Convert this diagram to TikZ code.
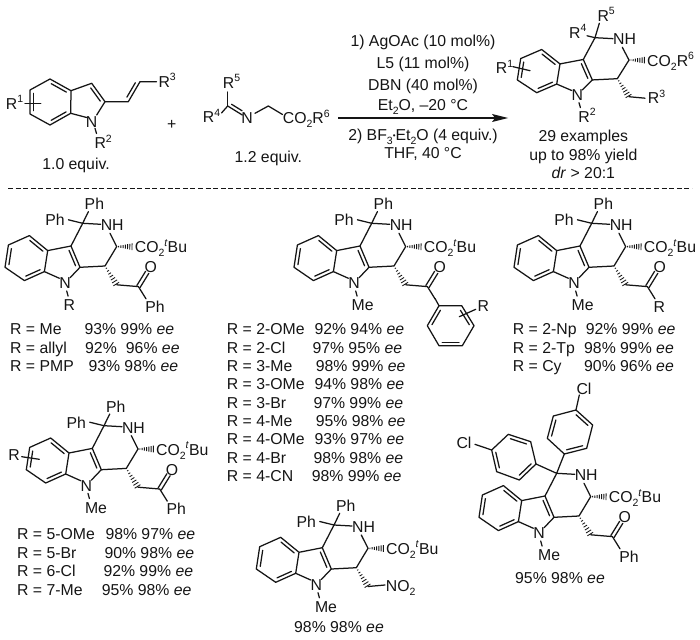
\documentclass[tikz,border=0pt]{standalone}
\usepackage{fontspec}
\setmainfont{Liberation Sans}
\usetikzlibrary{calc}
\definecolor{ink}{HTML}{151515}
\newcommand\sps[1]{\raisebox{.42em}{\fontsize{10.5}{10.5}\selectfont #1}}
\newcommand\sbs[1]{\raisebox{-.24em}{\fontsize{10.5}{10.5}\selectfont #1}}
\newcommand\eeit{\textit{ee}}
\newcommand\tbu{CO\sbs{2}\sps{\textit{t}}Bu}
\tikzset{
  bond/.style={draw=ink,line width=1.25pt,line cap=round,line join=round},
  lab/.style={inner sep=0pt,text=ink,font=\fontsize{15.8}{18}\selectfont},
  capw/.style={lab,anchor=base west,yshift=-5.6pt},
  capc/.style={lab,anchor=base,yshift=-5.6pt},
}
% inner line of a double bond
\newcommand\dbl[3]{\draw[bond] ($(#1)!.14!(#2)!#3pt!90:(#2)$) -- ($(#1)!.86!(#2)!#3pt!90:(#2)$);}
% hashed bond
\newcommand\hashb[2]{\foreach \t in {.12,.26,.40,.54,.68,.82,.96}{%
  \pgfmathsetmacro\w{\t*3.2+.3}%
  \draw[draw=ink,line width=.85pt] ($(#1)!\t!(#2)!\w pt!90:(#2)$) -- ($(#1)!\t!(#2)!-\w pt!90:(#2)$);}}
% tetrahydro-beta-carboline core: #1 ester text, #2 x of N substituent, #3 N substituent
\newcommand\core[3]{%
  \coordinate (C1) at (0,0); \coordinate (C3) at (34,23.3); \coordinate (C4) at (22.3,42.7);
  \coordinate (C4a) at (-2.7,44); \coordinate (C9b) at (-11.7,22.7);
  \coordinate (J1) at (-35,27.3); \coordinate (J2) at (-38.3,48.3);
  \coordinate (B1) at (-53.3,12.3); \coordinate (B2) at (-74.3,21.7);
  \coordinate (B3) at (-77.7,44); \coordinate (B4) at (-58.3,57.3);
  \coordinate (CH) at (34,61.5); \coordinate (Est) at (50,23.4);
  \node[capc] (nh) at (29.5,1.7) {NH};
  \node[capc] (indn) at (-17.7,60) {N};
  \node[capw] (ester) at (52,24) {#1};
  \node[capc] (nsub) at (#2,82) {#3};
  \draw[bond] (C3) -- (27.3,10);
  \draw[bond] (C1) -- (18,1);
  \draw[bond] (C3) -- (C4) -- (C4a) -- (C9b) -- (C1);
  \draw[bond] (C9b) -- (J1) -- (J2) -- (B4) -- (B3) -- (B2) -- (B1) -- (J1);
  \draw[bond] (C4a) -- (-12.7,54.5);
  \draw[bond] (J2) -- (-23.3,55);
  \draw[bond] (-16,67.7) -- (-14.6,72.8);
  \dbl{C9b}{C4a}{-3.5}\dbl{B1}{J1}{-3.5}\dbl{J2}{B4}{-3.5}\dbl{B3}{B2}{-3.5}
  \hashb{C3}{Est}\hashb{C4}{CH}
}
\newcommand\twoph{%
  \node[capc] (pha) at (11.7,-19.3) {Ph};
  \node[capc] (phb) at (-27.7,-3.3) {Ph};
  \draw[bond] (0,0) -- (5.7,-11.7);
  \draw[bond] (0,0) -- (-14.3,-3.5);
}
% #1 x of label, #2 label
\newcommand\acyl[2]{%
  \coordinate (CO) at (55.7,63.3); \coordinate (Ox) at (64.5,49);
  \node[capc] (oxy) at (68,44) {O};
  \node[capc] (acr) at (#1,83.3) {#2};
  \draw[bond] (CH) -- (CO) -- (63.3,75.5);
  \draw[bond] ($(CO)!1.9pt!90:(Ox)$) -- ($(Ox)!1.9pt!-90:(CO)$);
  \draw[bond] ($(CO)!-1.9pt!90:(Ox)$) -- ($(Ox)!-1.9pt!-90:(CO)$);
}
\newcommand\row[6]{%
  \node[capw] (#1a) at (#2,#4) {#5};
  \node[capw] (#1b) at (#3,#4) {#6};
}
\begin{document}
\begin{tikzpicture}[x=1pt,y=-1pt]
\useasboundingbox (0,0) rectangle (700,639);
\fill[white] (0,0) rectangle (700,639);

%% ---------- substrates ----------
\coordinate (a1) at (50,79); \coordinate (a2) at (71,90.7); \coordinate (a3) at (70.7,113.3);
\coordinate (a4) at (50,125); \coordinate (a5) at (30,114); \coordinate (a6) at (30,90);
\coordinate (a7) at (91.7,83.3); \coordinate (a8) at (105,101.7);
\coordinate (v1) at (128.3,101.7); \coordinate (v2) at (140,81.7);
\draw[bond] (a1) -- (a2) -- (a3) -- (a4) -- (a5) -- (a6) -- cycle;
\draw[bond] (a2) -- (a7) -- (a8) -- (v1) -- (v2) -- (156.5,81.7);
\dbl{a1}{a2}{-3.5}\dbl{a3}{a4}{-3.5}\dbl{a5}{a6}{-3.5}\dbl{a7}{a8}{-3.5}\dbl{v1}{v2}{3.5}
\node[capc] (sn) at (91.7,121.7) {N};
\draw[bond] (a8) -- (96.7,115);
\draw[bond] (a3) -- (86.7,117.5);
\draw[bond] (95,128.3) -- (96.5,133.5);
\node[capw] (sr1) at (5.7,104) {R\sps{1}};
\draw[bond] (25,103.3) -- (40.7,103.3);
\node[capw] (sr2) at (94.3,143.3) {R\sps{2}};
\node[capw] (sr3) at (158.3,82) {R\sps{3}};
\node[capc] (eq1) at (76,163.5) {1.0 equiv.};
\node[capc] (plus) at (171.7,124) {+};

\coordinate (i1) at (227.7,106); \coordinate (i2) at (242.3,115);
\coordinate (i3) at (268.3,106);
\node[capw] (ir5) at (222.7,83) {R\sps{5}};
\node[capw] (ir4) at (202.7,117.3) {R\sps{4}};
\node[capc] (in) at (247,118) {N};
\node[capw] (ies) at (282.7,118.3) {CO\sbs{2}R\sps{6}};
\node[capc] (eq2) at (268.3,156.7) {1.2 equiv.};
\draw[bond] (i1) -- (227.7,92);
\draw[bond] (i1) -- (221.5,113);
\draw[bond] (i1) -- (i2);
\dbl{i1}{i2}{3.5}
\draw[bond] (255,113.3) -- (i3) -- (282.5,114.5);

%% ---------- arrow and conditions ----------
\coordinate (arS) at (338,118); \coordinate (arE) at (508,118);
\draw[bond,line cap=butt] (arS) -- (498,118);
\fill[ink] (arE) -- (492,114) -- (495,118) -- (492,122) -- cycle;
\node[capc] (c1) at (423,41) {1) AgOAc (10 mol\%)};
\node[capc] (c2) at (423,63) {L5 (11 mol\%)};
\node[capc] (c3) at (423,85) {DBN (40 mol\%)};
\node[capc] (c4) at (423,105) {Et\sbs{2}O, –20 °C};
\node[capc] (c5) at (423,135) {2) BF\sbs{3}{\fontsize{8}{8}\selectfont\raisebox{.25em}{•}}Et\sbs{2}O (4 equiv.)};
\node[capc] (c6) at (423,153) {THF, 40 °C};

%% ---------- product ----------
\begin{scope}[shift={(595,37.7)},yscale=.96]
  \core{CO\sbs{2}R\sps{6}}{-8}{R\sps{2}}
  \draw[bond] (CH) -- (50,63);
  \draw[bond] (0,0) -- (4.3,-15);
  \draw[bond] (0,0) -- (-8,-2);
\end{scope}
\node[capw] (pr4) at (569,32.7) {R\sps{4}};
\node[capw] (pr5) at (597.3,15.7) {R\sps{5}};
\node[capw] (pr1) at (495.7,68.3) {R\sps{1}};
\node[capw] (pr3) at (647.7,98.3) {R\sps{3}};
\draw[bond] (513,66.7) -- (530,70.7);
\node[capc] (ex1) at (583.3,136) {29 examples};
\node[capc] (ex2) at (583.3,154.5) {up to 98\% yield};
\node[capc] (ex3) at (583.3,173.3) {\textit{dr} > 20:1};

%% ---------- separator ----------
\coordinate (dashL) at (8,188.5); \coordinate (dashR) at (692,188.5);
\draw[draw=ink,line width=1.1pt,dash pattern=on 5pt off 2.6pt] (dashL) -- (dashR);

%% ---------- panel 1 ----------
\begin{scope}[shift={(82.7,223.3)}]
  \core{\tbu}{-13.3}{R}\twoph\acyl{72.3}{Ph}
\end{scope}
\row{pa}{10}{84.3}{329.3}{R = Me}{93\% 99\% \eeit}
\row{pb}{10}{85}{347.7}{R = allyl}{92\%\hspace{.3em} 96\% \eeit}
\row{pc}{10}{88.3}{366}{R = PMP}{93\% 98\% \eeit}

%% ---------- panel 2 ----------
\begin{scope}[shift={(371.7,223.3)}]
  \core{\tbu}{-9}{Me}\twoph\acyl{70}{}
\end{scope}
\coordinate (r1) at (439,305.7); \coordinate (r2) at (461.7,305.7); \coordinate (r3) at (474,325.7);
\coordinate (r4) at (462.3,345.7); \coordinate (r5) at (439,345.7); \coordinate (r6) at (427.3,325.7);
\draw[bond] (r1) -- (r2) -- (r3) -- (r4) -- (r5) -- (r6) -- cycle;
\draw[bond] (435,298.5) -- (r1);
\dbl{r2}{r3}{-3.5}\dbl{r4}{r5}{-3.5}\dbl{r6}{r1}{-3.5}
\draw[bond] (459.3,316.7) -- (475.7,309.3);
\node[capc] (rr) at (483.3,305.7) {R};
\row{qa}{226.7}{314.3}{329}{R = 2-OMe}{92\% 94\% \eeit}
\row{qb}{226.7}{312.3}{347.7}{R = 2-Cl}{97\% 95\% \eeit}
\row{qc}{226.7}{315.7}{366}{R = 3-Me}{98\% 99\% \eeit}
\row{qd}{226.7}{314.3}{384.3}{R = 3-OMe}{94\% 98\% \eeit}
\row{qe}{226.7}{313.3}{402.7}{R = 3-Br}{97\% 99\% \eeit}
\row{qf}{226.7}{315.7}{421}{R = 4-Me}{95\% 98\% \eeit}
\row{qg}{226.7}{314.3}{439.3}{R = 4-OMe}{93\% 97\% \eeit}
\row{qh}{226.7}{313.3}{457.7}{R = 4-Br}{98\% 98\% \eeit}
\row{qi}{226.7}{311.7}{476}{R = 4-CN}{98\% 99\% \eeit}

%% ---------- panel 3 ----------
\begin{scope}[shift={(591.7,223.3)}]
  \core{\tbu}{-9}{Me}\twoph\acyl{67.7}{R}
\end{scope}
\row{ra}{512.7}{585.7}{329.3}{R = 2-Np}{92\% 99\% \eeit}
\row{rb}{512.7}{584}{347.7}{R = 2-Tp}{98\% 99\% \eeit}
\row{rc}{512.7}{584}{366}{R = Cy}{90\% 96\% \eeit}

%% ---------- panel 4 ----------
\begin{scope}[shift={(104,425.7)}]
  \core{\tbu}{-8}{Me}\twoph\acyl{72.3}{Ph}
\end{scope}
\node[capc] (r4l) at (14,455) {R};
\draw[bond] (21.7,456.7) -- (39.3,459.3);
\row{sa}{17}{105.3}{534.3}{R = 5-OMe}{98\% 97\% \eeit}
\row{sb}{17}{104.3}{552.7}{R = 5-Br}{90\% 98\% \eeit}
\row{sc}{17}{103.3}{571}{R = 6-Cl}{92\% 99\% \eeit}
\row{sd}{17}{101.7}{589.7}{R = 7-Me}{95\% 98\% \eeit}

%% ---------- panel 5 ----------
\begin{scope}[shift={(334,525)}]
  \core{\tbu}{-8}{Me}\twoph
  \draw[bond] (CH) -- (51,60);
\end{scope}
\node[capw] (no2) at (385.7,586.3) {NO\sbs{2}};
\node[capc] (y5) at (339,626.7) {98\% 98\% \eeit};

%% ---------- panel 6 ----------
\begin{scope}[shift={(556.7,473.3)}]
  \core{\tbu}{-7.5}{Me}\acyl{72.3}{Ph}
\end{scope}
\begin{scope}[shift={(440,390)},x=.3333pt,y=-.3333pt]
  \coordinate (q0) at (350,250);
  \coordinate (u1) at (373,192); \coordinate (u2) at (322,145); \coordinate (u3) at (340,78);
  \coordinate (u4) at (408,60); \coordinate (u5) at (458,105); \coordinate (u6) at (440,175);
  \draw[bond] (u1) -- (u2) -- (u3) -- (u4) -- (u5) -- (u6) -- cycle;
  \draw[bond] (q0) -- (u1);
  \draw[bond] (u4) -- (418,15);
  \dbl{u2}{u3}{-3.5}\dbl{u4}{u5}{-3.5}\dbl{u6}{u1}{-3.5}
  \coordinate (w1) at (288,222); \coordinate (w2) at (272,155); \coordinate (w3) at (205,133);
  \coordinate (w4) at (155,180); \coordinate (w5) at (170,245); \coordinate (w6) at (238,270);
  \draw[bond] (w1) -- (w2) -- (w3) -- (w4) -- (w5) -- (w6) -- cycle;
  \draw[bond] (q0) -- (w1);
  \draw[bond] (w4) -- (105,163);
  \dbl{w3}{w2}{-3.5}\dbl{w5}{w4}{-3.5}\dbl{w1}{w6}{-3.5}
\end{scope}
\node[capc] (cl1) at (584,389) {Cl};
\node[capc] (cl2) at (464,443.3) {Cl};
\node[capc] (y6) at (560,578.3) {95\% 98\% \eeit};
\end{tikzpicture}
\end{document}
